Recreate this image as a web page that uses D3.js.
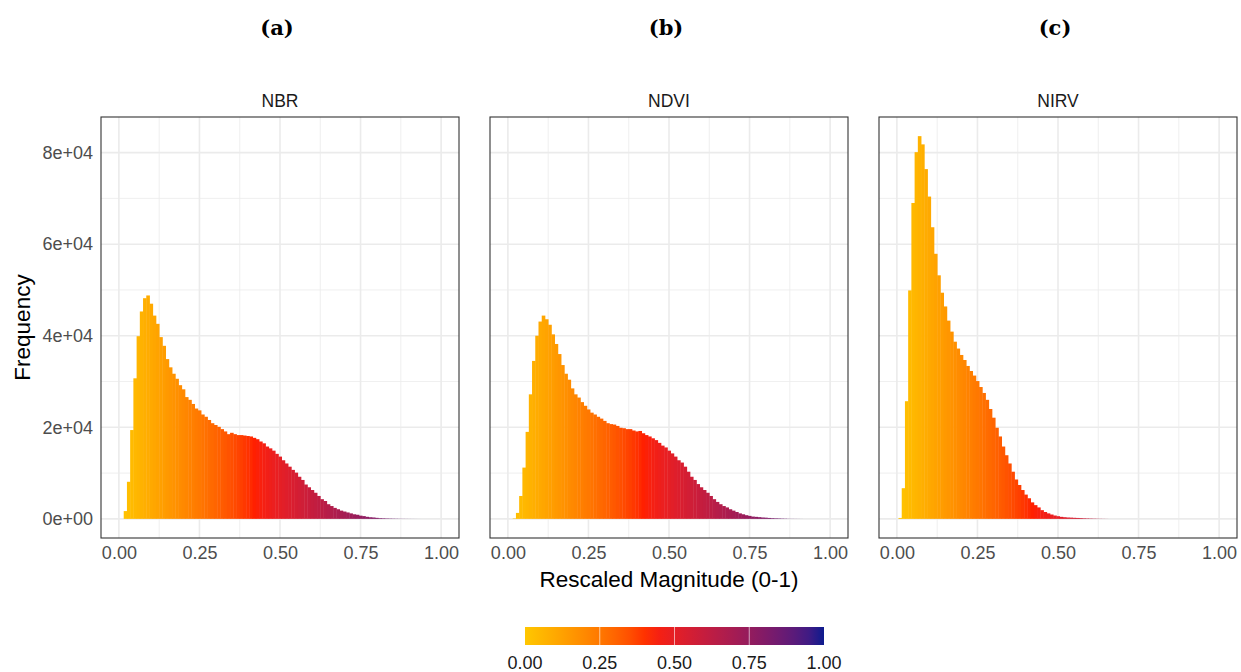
<!DOCTYPE html>
<html>
<head>
<meta charset="utf-8">
<script src="https://cdn.jsdelivr.net/npm/d3@7"></script>
<style>
  body { margin: 0; background: #fff; }
  text { font-family: "Liberation Sans", Arial, sans-serif; }
  .title { font-family: "DejaVu Serif", serif; font-weight: bold; font-size: 21px; fill: #000; }
  .strip { font-size: 17.5px; fill: #1a1a1a; }
  .tick text { font-size: 18px; fill: #4d4d4d; }
  .axisTitle { font-size: 22.5px; fill: #000; }
  .legendText { font-size: 18px; fill: #1a1a1a; }
</style>
</head>
<body>
<div id="chart"></div>
<script>
const width = 1241;
const height = 672;

// panels, in facet order
const panelNames  = ["NBR", "NDVI", "NIRV"];
const panelTitles = ["(a)", "(b)", "(c)"];

// histogram bins (width 0.01, centred on multiples of 0.01)
const binWidth = 0.01;
const nbrFirstBin  = 0.02;
const ndviFirstBin = 0.02;
const nirvFirstBin = 0.01;

const nbrCounts = [
  1700, 8100, 19400, 30700, 39900, 45300, 48200, 48800, 47000, 44400,
  42600, 39700, 37800, 34900, 33100, 31700, 30600, 29200, 28300, 26600,
  26000, 25100, 24100, 23700, 22800, 22300, 21600, 20900, 20500, 20100,
  19600, 19100, 18500, 18800, 18500, 18300, 18300, 18200, 18100, 18000,
  17700, 17400, 16900, 16500, 15800, 15400, 14900, 14200, 13600, 12800,
  12100, 11400, 10700, 10100, 9200, 8500, 7500, 6900, 6300, 5700,
  5000, 4300, 3900, 3200, 2800, 2400, 2100, 1800, 1600, 1400,
  1200, 1000, 900, 700, 600, 450, 350, 300, 220, 150,
  120, 90, 70, 55, 40, 30, 22, 16, 12, 8, 5, 3
];

const ndviCounts = [
  100, 1300, 5000, 11200, 19000, 27200, 34500, 40000, 43100, 44400,
  43600, 42400, 40300, 38200, 36000, 33600, 31700, 30400, 28500, 27200,
  26500, 25500, 24700, 23900, 23200, 22800, 22300, 21900, 21400, 20900,
  20700, 20600, 20300, 19900, 19800, 19600, 19600, 19300, 19100, 19200,
  18700, 18300, 18000, 17600, 17200, 16600, 16000, 15600, 14900, 14300,
  13600, 12800, 12300, 11400, 10300, 9200, 8500, 7600, 6900, 6300,
  5700, 5000, 4300, 3700, 3200, 2800, 2500, 2100, 1800, 1500,
  1200, 1000, 800, 650, 500, 440, 370, 300, 260, 200,
  150, 120, 100, 70, 50, 30, 20, 15, 10, 5
];

const nirvCounts = [
  200, 6700, 25700, 49900, 69000, 80100, 83600, 81800, 76400, 70400,
  63700, 57900, 53200, 49400, 46400, 43300, 40900, 38700, 37200, 35800,
  34700, 33400, 32300, 31300, 30100, 28800, 27500, 26000, 24000, 22100,
  19900, 18000, 15800, 13900, 12100, 10300, 8600, 7400, 6300, 5300,
  4500, 3600, 3000, 2500, 1900, 1500, 1200, 950, 730, 580,
  440, 360, 300, 270, 230, 200, 170, 130, 100, 80,
  60, 45, 30, 20, 10
];

const xTicks = [0, 0.25, 0.5, 0.75, 1];
const xMinor = [0.125, 0.375, 0.625, 0.875];
const yTicks = [0, 20000, 40000, 60000, 80000];
const yMinor = [10000, 30000, 50000, 70000];
const legendTicks = [0, 0.25, 0.5, 0.75, 1];

// fill colours along the rescaled magnitude
const colourStops = [0, 0.42, 1];
const colourValues = ["#ffc700", "#ff2000", "#0d1b8e"];

const panelData = [
  {first: nbrFirstBin, counts: nbrCounts},
  {first: ndviFirstBin, counts: ndviCounts},
  {first: nirvFirstBin, counts: nirvCounts}
].map(p => p.counts.map((c, i) => ({mid: p.first + i * binWidth, count: c})));

const colour = d3.scaleLinear()
  .domain(colourStops)
  .range(colourValues)
  .interpolate(d3.interpolateLab);

const margin = {top: 117, bottom: 134, left: 101, right: 4};
const gap = 31;
const panelW = (width - margin.left - margin.right - 2 * gap) / 3;
const panelH = height - margin.top - margin.bottom;

// x domain: bins from -0.005 to 1.005, expanded by 5%
const xLo = -0.005, xHi = 1.005;
const xPad = (xHi - xLo) * 0.05;

const yMax = d3.max(panelData.flat(), d => d.count);
const y = d3.scaleLinear()
  .domain([-0.05 * yMax, 1.05 * yMax])
  .range([margin.top + panelH, margin.top]);

const svg = d3.select("#chart").append("svg")
  .attr("width", width)
  .attr("height", height);

const sciFormat = d => {
  if (d === 0) return "0e+00";
  const e = Math.floor(Math.log10(d));
  const m = Math.round(d / Math.pow(10, e));
  return m + "e+" + String(e).padStart(2, "0");
};

panelNames.forEach((name, pi) => {
  const x0 = margin.left + pi * (panelW + gap);
  const x = d3.scaleLinear()
    .domain([xLo - xPad, xHi + xPad])
    .range([x0, x0 + panelW]);

  const g = svg.append("g");

  // minor grid
  g.selectAll("line.xminor").data(xMinor).enter().append("line")
    .attr("x1", d => x(d)).attr("x2", d => x(d))
    .attr("y1", margin.top).attr("y2", margin.top + panelH)
    .attr("stroke", "#ebebeb").attr("stroke-width", 0.8);
  g.selectAll("line.yminor").data(yMinor).enter().append("line")
    .attr("x1", x0).attr("x2", x0 + panelW)
    .attr("y1", d => y(d)).attr("y2", d => y(d))
    .attr("stroke", "#ebebeb").attr("stroke-width", 0.8);

  // major grid
  g.selectAll("line.xmajor").data(xTicks).enter().append("line")
    .attr("x1", d => x(d)).attr("x2", d => x(d))
    .attr("y1", margin.top).attr("y2", margin.top + panelH)
    .attr("stroke", "#ebebeb").attr("stroke-width", 1.6);
  g.selectAll("line.ymajor").data(yTicks).enter().append("line")
    .attr("x1", x0).attr("x2", x0 + panelW)
    .attr("y1", d => y(d)).attr("y2", d => y(d))
    .attr("stroke", "#ebebeb").attr("stroke-width", 1.6);

  // bars
  g.selectAll("rect.bar").data(panelData[pi]).enter().append("rect")
    .attr("class", "bar")
    .attr("x", d => x(d.mid - binWidth / 2))
    .attr("width", d => x(d.mid + binWidth / 2) - x(d.mid - binWidth / 2) + 0.4)
    .attr("y", d => y(d.count))
    .attr("height", d => y(0) - y(d.count))
    .attr("fill", d => colour(d.mid));

  // panel border
  g.append("rect")
    .attr("x", x0).attr("y", margin.top)
    .attr("width", panelW).attr("height", panelH)
    .attr("fill", "none").attr("stroke", "#333").attr("stroke-width", 1.1);

  // x axis labels
  const xAxis = d3.axisBottom(x)
    .tickValues(xTicks)
    .tickSize(0)
    .tickPadding(7)
    .tickFormat(d3.format(".2f"));
  const ax = g.append("g")
    .attr("transform", `translate(0,${margin.top + panelH + 1})`)
    .call(xAxis);
  ax.select(".domain").remove();

  if (pi === 0) {
    const yAxis = d3.axisLeft(y)
      .tickValues(yTicks)
      .tickSize(0)
      .tickPadding(8)
      .tickFormat(sciFormat);
    const ay = g.append("g")
      .attr("transform", `translate(${x0},0)`)
      .call(yAxis);
    ay.select(".domain").remove();
  }

  // strip label
  g.append("text")
    .attr("class", "strip")
    .attr("x", x0 + panelW / 2)
    .attr("y", margin.top - 10)
    .attr("text-anchor", "middle")
    .text(name);

  // panel title
  g.append("text")
    .attr("class", "title")
    .attr("x", x0 + panelW / 2 - 3)
    .attr("y", 35)
    .attr("text-anchor", "middle")
    .text(panelTitles[pi]);
});

// axis titles
svg.append("text")
  .attr("class", "axisTitle")
  .attr("transform", `translate(30,${margin.top + panelH / 2}) rotate(-90)`)
  .attr("text-anchor", "middle")
  .text("Frequency");

svg.append("text")
  .attr("class", "axisTitle")
  .attr("x", margin.left + 1.5 * panelW + gap)
  .attr("y", 587)
  .attr("text-anchor", "middle")
  .text("Rescaled Magnitude (0-1)");

// colour bar legend
const lx = d3.scaleLinear().domain([0, 1]).range([525, 824]);
const legTop = 627, legH = 18;

const defs = svg.append("defs");
const grad = defs.append("linearGradient").attr("id", "magGrad");
d3.range(0, 1.0001, 0.05).forEach(t => {
  grad.append("stop").attr("offset", t).attr("stop-color", colour(t));
});

svg.append("rect")
  .attr("x", lx(0)).attr("y", legTop)
  .attr("width", lx(1) - lx(0)).attr("height", legH)
  .attr("fill", "url(#magGrad)");

svg.selectAll("line.legTick").data(legendTicks.slice(1, -1)).enter().append("line")
  .attr("x1", d => lx(d)).attr("x2", d => lx(d))
  .attr("y1", legTop).attr("y2", legTop + legH)
  .attr("stroke", "#fff").attr("stroke-opacity", 0.6).attr("stroke-width", 1);

svg.selectAll("text.legendText").data(legendTicks).enter().append("text")
  .attr("class", "legendText")
  .attr("x", d => lx(d))
  .attr("y", 669)
  .attr("text-anchor", "middle")
  .text(d3.format(".2f"));
</script>
</body>
</html>
